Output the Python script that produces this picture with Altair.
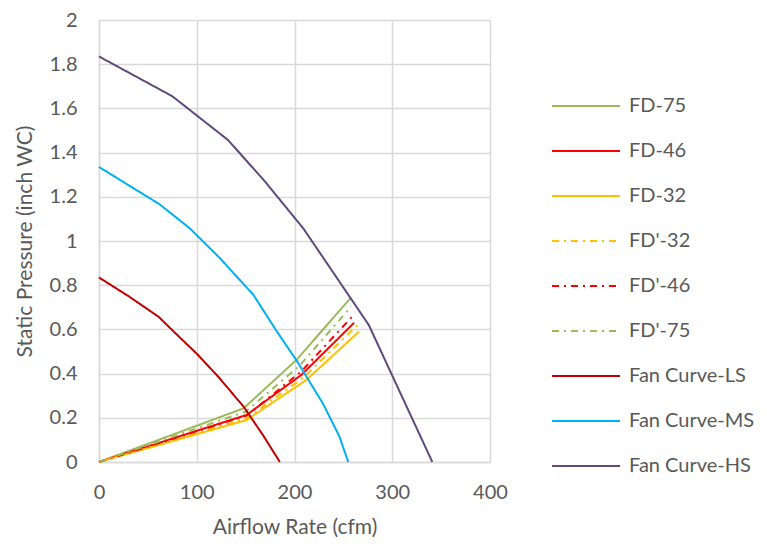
import altair as alt
import pandas as pd

series = ["FD-75", "FD-46", "FD-32", "FD'-32", "FD'-46", "FD'-75",
          "Fan Curve-LS", "Fan Curve-MS", "Fan Curve-HS"]
colors = ["#9BBB59", "#FF0000", "#FFC000", "#FFC000", "#FF0000", "#9BBB59",
          "#C00000", "#00B0F0", "#604A7B"]

fd75_x = [0, 148, 202, 257]
fd75_y = [0, 0.243, 0.462, 0.74]
fd46_x = [0, 151, 207, 261]
fd46_y = [0, 0.213, 0.394, 0.63]
fd32_x = [0, 151, 212, 266]
fd32_y = [0, 0.19, 0.371, 0.59]
fdp32_x = [0, 151, 210, 266]
fdp32_y = [0, 0.197, 0.385, 0.627]
fdp46_x = [0, 151, 207, 262]
fdp46_y = [0, 0.21, 0.41, 0.672]
fdp75_x = [0, 150, 205, 258]
fdp75_y = [0, 0.228, 0.435, 0.703]
ls_x = [0, 31, 61, 80, 100, 122, 148, 168, 185]
ls_y = [0.835, 0.748, 0.657, 0.575, 0.49, 0.386, 0.25, 0.12, 0]
ms_x = [0, 62, 93, 124, 158, 181, 202, 229, 246, 255]
ms_y = [1.335, 1.166, 1.057, 0.921, 0.756, 0.597, 0.46, 0.265, 0.115, 0]
hs_x = [0, 75, 132, 170, 209, 276, 341]
hs_y = [1.835, 1.655, 1.457, 1.268, 1.057, 0.62, 0]

xs = [fd75_x, fd46_x, fd32_x, fdp32_x, fdp46_x, fdp75_x, ls_x, ms_x, hs_x]
ys = [fd75_y, fd46_y, fd32_y, fdp32_y, fdp46_y, fdp75_y, ls_y, ms_y, hs_y]

rows = []
for name, xv, yv in zip(series, xs, ys):
    for i, (a, b) in enumerate(zip(xv, yv)):
        rows.append({"series": name, "x": a, "y": b, "order": i})
df = pd.DataFrame(rows)

solid = [1, 0]
dashdot = [7, 5, 2, 5]
dashes = [solid, solid, solid, dashdot, dashdot, dashdot, solid, solid, solid]
widths = [2, 2, 2, 2, 2, 2, 2.75, 2.75, 2.75]

y_ticks = [0, 0.2, 0.4, 0.6, 0.8, 1, 1.2, 1.4, 1.6, 1.8, 2]
x_ticks = [0, 100, 200, 300, 400]

FONT = "Lato"
TXT = "#595959"
GRID = "#D9D9D9"

legend = alt.Legend(
    title=None, orient="none", legendX=452, legendY=51,
    symbolType="stroke", symbolSize=4624, symbolStrokeWidth=2,
    labelFontSize=20, labelFont=FONT, labelColor=TXT, labelOffset=8,
    rowPadding=0,
)

chart = alt.Chart(df).mark_line().encode(
    x=alt.X("x:Q", scale=alt.Scale(domain=[0, 400], nice=False),
            axis=alt.Axis(values=x_ticks, title="Airflow Rate (cfm)")),
    y=alt.Y("y:Q", scale=alt.Scale(domain=[0, 2], nice=False),
            axis=alt.Axis(values=y_ticks, format="~g", title="Static Pressure (inch WC)")),
    color=alt.Color("series:N", scale=alt.Scale(domain=series, range=colors), legend=legend),
    strokeDash=alt.StrokeDash("series:N", scale=alt.Scale(domain=series, range=dashes), legend=legend),
    strokeWidth=alt.StrokeWidth("series:N", scale=alt.Scale(domain=series, range=widths), legend=legend),
    order="order:Q",
    detail="series:N",
).properties(
    width=391, height=442,
    autosize=alt.AutoSizeParams(type="none"),
    padding={"left": 91, "top": 12, "right": 269, "bottom": 76},
).configure_view(
    stroke=None
).configure_axis(
    grid=True, gridColor=GRID, gridWidth=1.5,
    domainColor=GRID, domainWidth=1.5, ticks=False, labelFlush=False,
    labelFont=FONT, labelFontSize=20, labelColor=TXT,
    titleFont=FONT, titleFontSize=21, titleColor=TXT, titleFontWeight="normal",
).configure_axisX(
    labelPadding=20, titlePadding=14
).configure_axisY(
    labelPadding=22, titlePadding=14
)

chart.save("out.html", embed_options={"renderer": "svg", "actions": False})
